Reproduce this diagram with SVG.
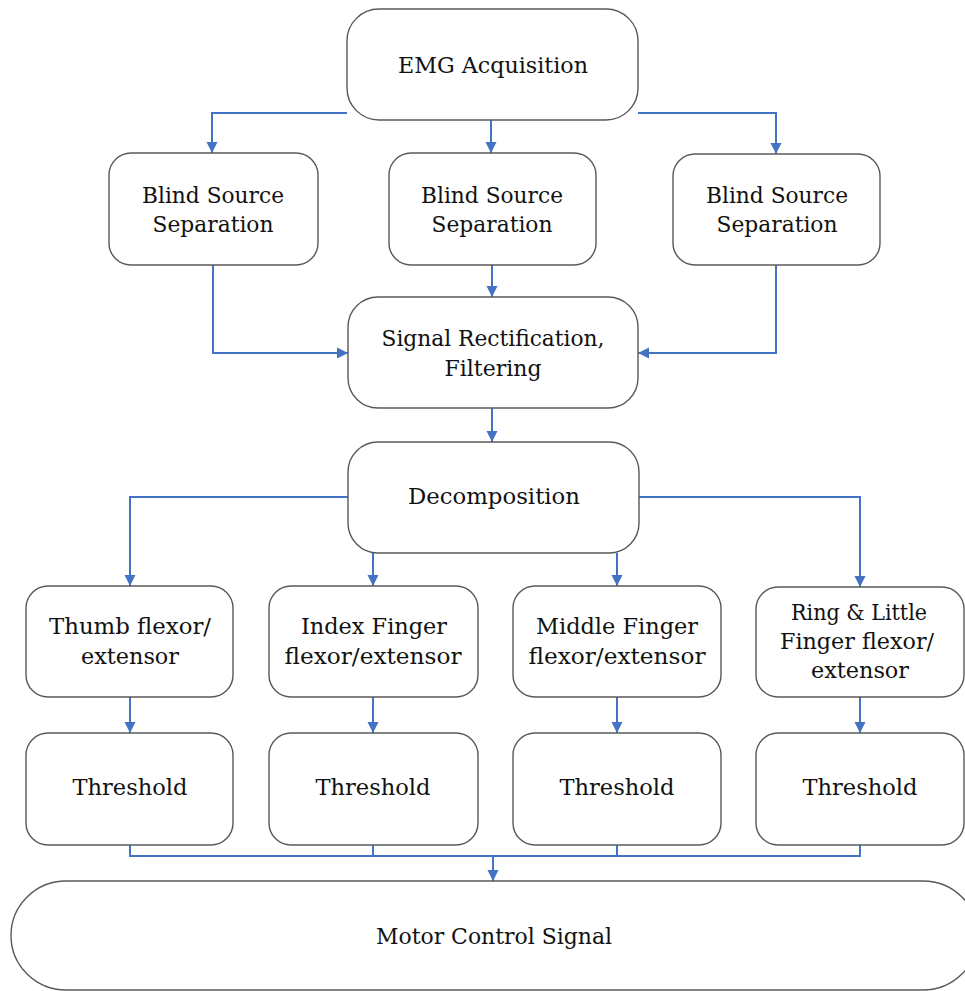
<svg xmlns="http://www.w3.org/2000/svg" width="965" height="991" viewBox="0 0 965 991">
<defs>
<marker id="ah" markerWidth="12" markerHeight="12" refX="11" refY="6" orient="auto" markerUnits="userSpaceOnUse">
<path d="M0,0.5 L11,6 L0,11.5 Z" fill="#4472C4"/>
</marker>
<style>
.box{fill:#fff;stroke:#595959;stroke-width:1.4}
.t{font-family:"DejaVu Serif","Liberation Serif",serif;font-size:22px;fill:#111;text-anchor:middle}
.c{fill:none;stroke:#4472C4;stroke-width:2}
.a{marker-end:url(#ah)}
</style>
</defs>
<rect width="965" height="991" fill="#fff"/>
<g id="connectors">
<path class="c a" d="M491,120 V153"/>
<path class="c a" d="M347,113 H212 V153"/>
<path class="c a" d="M638,113 H776 V154"/>
<path class="c a" d="M213,265 V353 H348"/>
<path class="c a" d="M776,265 V353 H638"/>
<path class="c a" d="M492,265 V297"/>
<path class="c a" d="M492,408 V442"/>
<path class="c a" d="M348,497 H130 V586"/>
<path class="c a" d="M639,497 H860 V587"/>
<path class="c a" d="M373,553 V586"/>
<path class="c a" d="M617,553 V586"/>
<path class="c a" d="M130,697 V733"/>
<path class="c a" d="M373,697 V733"/>
<path class="c a" d="M617,697 V733"/>
<path class="c a" d="M860,697 V733"/>
<path class="c" d="M130,845 V856 H860 V845 M373,845 V856 M617,845 V856"/>
<path class="c a" d="M493,856 V881"/>
</g>
<g id="emg"><rect class="box" x="347" y="9" width="291" height="111" rx="32"/><text class="t" x="493" y="73" textLength="190" lengthAdjust="spacingAndGlyphs">EMG Acquisition</text></g>
<g id="bss1"><rect class="box" x="109" y="153" width="209" height="112" rx="22"/><text class="t" x="213" y="203" textLength="142" lengthAdjust="spacingAndGlyphs">Blind Source</text><text class="t" x="213" y="232" textLength="121" lengthAdjust="spacingAndGlyphs">Separation</text></g>
<g id="bss2"><rect class="box" x="389" y="153" width="207" height="112" rx="22"/><text class="t" x="492" y="203" textLength="142" lengthAdjust="spacingAndGlyphs">Blind Source</text><text class="t" x="492" y="232" textLength="121" lengthAdjust="spacingAndGlyphs">Separation</text></g>
<g id="bss3"><rect class="box" x="673" y="154" width="207" height="111" rx="22"/><text class="t" x="777" y="203" textLength="142" lengthAdjust="spacingAndGlyphs">Blind Source</text><text class="t" x="777" y="232" textLength="121" lengthAdjust="spacingAndGlyphs">Separation</text></g>
<g id="signal"><rect class="box" x="348" y="297" width="290" height="111" rx="30"/><text class="t" x="493" y="346" textLength="223" lengthAdjust="spacingAndGlyphs">Signal Rectification,</text><text class="t" x="493" y="376" textLength="97" lengthAdjust="spacingAndGlyphs">Filtering</text></g>
<g id="decomp"><rect class="box" x="348" y="442" width="291" height="111" rx="30"/><text class="t" x="494" y="504" textLength="172" lengthAdjust="spacingAndGlyphs">Decomposition</text></g>
<g id="thumb"><rect class="box" x="26" y="586" width="207" height="111" rx="22"/><text class="t" x="130" y="634" textLength="162" lengthAdjust="spacingAndGlyphs">Thumb flexor/</text><text class="t" x="130" y="664" textLength="98" lengthAdjust="spacingAndGlyphs">extensor</text></g>
<g id="index"><rect class="box" x="269" y="586" width="209" height="111" rx="22"/><text class="t" x="374" y="634" textLength="146" lengthAdjust="spacingAndGlyphs">Index Finger</text><text class="t" x="373" y="664" textLength="177" lengthAdjust="spacingAndGlyphs">flexor/extensor</text></g>
<g id="middle"><rect class="box" x="513" y="586" width="208" height="111" rx="22"/><text class="t" x="617" y="634" textLength="162" lengthAdjust="spacingAndGlyphs">Middle Finger</text><text class="t" x="617" y="664" textLength="177" lengthAdjust="spacingAndGlyphs">flexor/extensor</text></g>
<g id="ring"><rect class="box" x="756" y="587" width="208" height="110" rx="22"/><text class="t" x="859" y="620" textLength="136" lengthAdjust="spacingAndGlyphs">Ring &amp; Little</text><text class="t" x="857" y="649" textLength="154" lengthAdjust="spacingAndGlyphs">Finger flexor/</text><text class="t" x="860" y="678" textLength="98" lengthAdjust="spacingAndGlyphs">extensor</text></g>
<g id="th1"><rect class="box" x="26" y="733" width="207" height="112" rx="22"/><text class="t" x="130" y="795" textLength="115" lengthAdjust="spacingAndGlyphs">Threshold</text></g>
<g id="th2"><rect class="box" x="269" y="733" width="209" height="112" rx="22"/><text class="t" x="373" y="795" textLength="115" lengthAdjust="spacingAndGlyphs">Threshold</text></g>
<g id="th3"><rect class="box" x="513" y="733" width="208" height="112" rx="22"/><text class="t" x="617" y="795" textLength="115" lengthAdjust="spacingAndGlyphs">Threshold</text></g>
<g id="th4"><rect class="box" x="756" y="733" width="208" height="112" rx="22"/><text class="t" x="860" y="795" textLength="115" lengthAdjust="spacingAndGlyphs">Threshold</text></g>
<g id="motor"><rect class="box" x="11" y="881" width="967" height="109" rx="55"/><text class="t" x="494" y="944" textLength="236" lengthAdjust="spacingAndGlyphs">Motor Control Signal</text></g>
</svg>
